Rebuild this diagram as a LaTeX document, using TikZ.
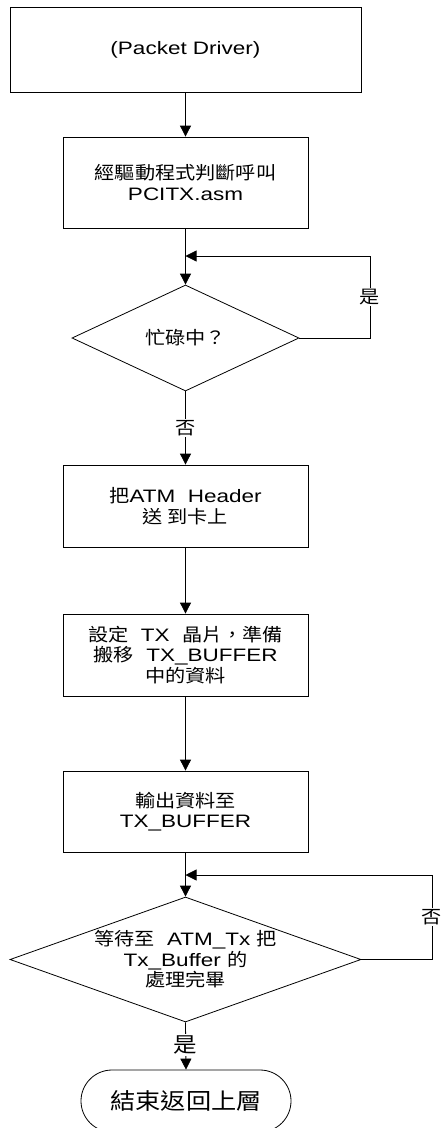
\documentclass[tikz,border=0pt]{standalone}
\usepackage{fontspec}
\setmainfont{Liberation Sans}[FakeStretch=1.25]
\newfontfamily\cjkfont{Noto Sans CJK TC}[FakeStretch=1.12]
\newcommand\zh[1]{{\cjkfont #1}}
\usetikzlibrary{arrows.meta,shapes.geometric,shapes.misc}
\begin{document}
\begin{tikzpicture}[x=1pt,y=-1pt,line width=0.8pt,
  box/.style={draw,rectangle,minimum width=245pt,minimum height=82pt,inner sep=0pt,align=center,font=\fontsize{18}{20.5}\selectfont},
  dec/.style={draw,diamond,inner sep=0pt},
  txt/.style={align=center,inner sep=0pt,font=\fontsize{18}{20.5}\selectfont},
  arr/.style={-{Triangle[width=11pt,length=11pt]}},
  lab/.style={fill=white,inner sep=1.5pt,font=\fontsize{18}{20}\selectfont}]
\useasboundingbox (0,0) rectangle (442,1128);
\node[box,minimum width=351pt,minimum height=85pt] (b1) at (185.5,49.5) {(Packet Driver)};
\node[box,minimum height=91pt] (b2) at (185.5,182.5) {\zh{經驅動程式判斷呼叫}\\PCITX.asm};
\node[dec,minimum width=227pt,minimum height=106pt] (d1) at (185.5,338) {};
\node[txt] (d1t) at (d1.center) {\zh{忙碌中？}};
\node[box] (b3) at (185.5,506) {\zh{把}ATM\ \ Header\\\zh{送 到卡上}};
\node[box] (b4) at (185.5,655) {\zh{設定}\ \ TX\ \ \zh{晶片，準備}\\\zh{搬移}\ \ TX\_BUFFER\\\zh{中的資料}};
\node[box,minimum height=81pt] (b5) at (185.5,811.5) {\zh{輸出資料至}\\TX\_BUFFER};
\node[dec,minimum width=351pt,minimum height=125pt] (d2) at (185.5,959.5) {};
\node[txt] (d2t) at (d2.center) {\zh{等待至}\ \ ATM\_Tx \zh{把}\\Tx\_Buffer \zh{的}\\\zh{處理完畢}};
\node[draw,rounded rectangle,minimum width=210pt,minimum height=62pt,inner sep=0pt,font=\fontsize{22.5}{24}\selectfont] (t) at (186,1101) {\zh{結束返回上層}};
\coordinate (j1) at (185.5,256);
\coordinate (r1) at (370,256);
\coordinate (j2) at (185.5,875);
\coordinate (r2) at (432,875);
\draw[arr] (b1.south) -- (b2.north);
\draw[arr] (b2.south) -- (d1.north);
\draw[arr] (d1.east) -| (r1) -- (j1);
\node[lab] (l1) at (370,297) {\zh{是}};
\draw[arr] (d1.south) -- (b3.north);
\node[lab] (l2) at (185.5,428) {\zh{否}};
\draw[arr] (b3.south) -- (b4.north);
\draw[arr] (b4.south) -- (b5.north);
\draw[arr] (b5.south) -- (d2.north);
\draw[arr] (d2.east) -| (r2) -- (j2);
\node[lab] (l3) at (432,917) {\zh{否}};
\draw[arr] (d2.south) -- (t.north);
\node[lab,font=\fontsize{21}{23}\selectfont] (l4) at (185.5,1045) {\zh{是}};
\end{tikzpicture}
\end{document}
